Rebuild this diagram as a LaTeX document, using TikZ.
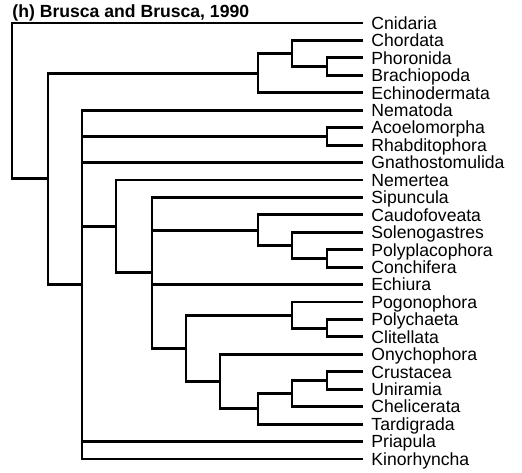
\documentclass[tikz,border=0pt]{standalone}
\usepackage{fontspec}
\setmainfont{Liberation Sans}
\begin{document}
\begin{tikzpicture}[x=1pt,y=-1pt,line width=2.9pt,
  taxon/.style={anchor=west,inner xsep=7pt,inner ysep=0pt,text height=12.6pt,text depth=0pt,font=\fontsize{17.6}{20}\selectfont}]
\useasboundingbox (0,0) rectangle (522,473);
\node[anchor=west,inner sep=0pt,text height=12pt,text depth=0pt,font=\fontsize{17.6}{20}\selectfont\bfseries] (title) at (11,11.5) {(h) Brusca and Brusca, 1990};
\foreach \t [count=\i from 0] in {Cnidaria,Chordata,Phoronida,Brachiopoda,Echinodermata,Nematoda,Acoelomorpha,Rhabditophora,Gnathostomulida,Nemertea,Sipuncula,Caudofoveata,Solenogastres,Polyplacophora,Conchifera,Echiura,Pogonophora,Polychaeta,Clitellata,Onychophora,Crustacea,Uniramia,Chelicerata,Tardigrada,Priapula,Kinorhyncha}
  {\node[taxon] (\t) at (363,23+17.44*\i) {\t};}
\coordinate (phbr) at (327,66.6);\coordinate (chph) at (292,53.52);\coordinate (deut) at (258,73.14);
\coordinate (acrh) at (327,136.36);
\coordinate (pocon) at (327,258.44);\coordinate (solen) at (292,245.36);\coordinate (moll) at (258,230.1);
\coordinate (pocl) at (327,328.2);\coordinate (anne) at (292,315.12);
\coordinate (crun) at (327,380.52);\coordinate (arth) at (292,393.6);\coordinate (artd) at (258,408.86);
\coordinate (pan) at (220,381.61);\coordinate (artic) at (186,348.37);\coordinate (sip) at (152,272.9);
\coordinate (nem) at (116,226.4);\coordinate (prot) at (82,284.6);\coordinate (bila) at (48,178.9);
\coordinate (root) at (12,100.9);
\foreach \p/\c in {root/Cnidaria,root/bila,bila/deut,bila/prot,deut/chph,deut/Echinodermata,chph/Chordata,chph/phbr,phbr/Phoronida,phbr/Brachiopoda,
  prot/Nematoda,prot/acrh,prot/Gnathostomulida,prot/nem,prot/Priapula,prot/Kinorhyncha,acrh/Acoelomorpha,acrh/Rhabditophora,
  nem/Nemertea,nem/sip,sip/Sipuncula,sip/moll,sip/Echiura,sip/artic,moll/Caudofoveata,moll/solen,solen/Solenogastres,solen/pocon,pocon/Polyplacophora,pocon/Conchifera,
  artic/anne,artic/pan,anne/Pogonophora,anne/pocl,pocl/Polychaeta,pocl/Clitellata,pan/Onychophora,pan/artd,artd/arth,artd/Tardigrada,arth/crun,arth/Chelicerata,crun/Crustacea,crun/Uniramia}
  {\draw (\p) |- (\c);}
\end{tikzpicture}
\end{document}
